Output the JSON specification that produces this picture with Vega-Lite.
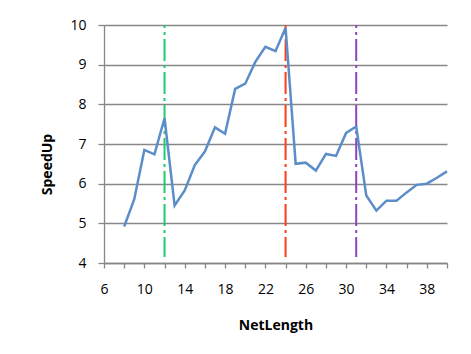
{
  "$schema": "https://vega.github.io/schema/vega-lite/v6.json",
  "width": 343,
  "height": 238,
  "autosize": {"type": "none"},
  "padding": {"left": 104, "top": 25, "right": 24, "bottom": 91},
  "background": "white",
  "config": {
    "view": {"stroke": null},
    "font": "Open Sans",
    "axis": {
      "domainColor": "#878787", "domainWidth": 1.3,
      "tickColor": "#878787", "tickWidth": 1.3,
      "labelFont": "Open Sans", "labelFontSize": 14, "labelColor": "#000000",
      "labelOverlap": false, "labelFlush": false,
      "titleFont": "Open Sans", "titleFontSize": 14, "titleFontWeight": "bold",
      "titleColor": "#000000"
    },
    "axisX": {"grid": false, "tickSize": 5, "labelPadding": 14, "titleBaseline": "middle", "titleY": 62},
    "axisY": {"grid": true, "gridColor": "#878787", "gridWidth": 1.3, "tickSize": 6, "labelPadding": 12,
      "titleX": -57, "titleY": 139, "titleAlign": "center", "titleBaseline": "middle"}
  },
  "datasets": {
    "speed": [
      {"NetLength": 8, "SpeedUp": 4.92},
      {"NetLength": 9, "SpeedUp": 5.61},
      {"NetLength": 10, "SpeedUp": 6.85},
      {"NetLength": 11, "SpeedUp": 6.74},
      {"NetLength": 12, "SpeedUp": 7.65},
      {"NetLength": 13, "SpeedUp": 5.45},
      {"NetLength": 14, "SpeedUp": 5.83},
      {"NetLength": 15, "SpeedUp": 6.47},
      {"NetLength": 16, "SpeedUp": 6.81},
      {"NetLength": 17, "SpeedUp": 7.42},
      {"NetLength": 18, "SpeedUp": 7.26},
      {"NetLength": 19, "SpeedUp": 8.39},
      {"NetLength": 20, "SpeedUp": 8.52},
      {"NetLength": 21, "SpeedUp": 9.07},
      {"NetLength": 22, "SpeedUp": 9.45},
      {"NetLength": 23, "SpeedUp": 9.34},
      {"NetLength": 24, "SpeedUp": 9.93},
      {"NetLength": 25, "SpeedUp": 6.5},
      {"NetLength": 26, "SpeedUp": 6.53},
      {"NetLength": 27, "SpeedUp": 6.33},
      {"NetLength": 28, "SpeedUp": 6.75},
      {"NetLength": 29, "SpeedUp": 6.7},
      {"NetLength": 30, "SpeedUp": 7.28},
      {"NetLength": 31, "SpeedUp": 7.44},
      {"NetLength": 32, "SpeedUp": 5.7},
      {"NetLength": 33, "SpeedUp": 5.32},
      {"NetLength": 34, "SpeedUp": 5.57},
      {"NetLength": 35, "SpeedUp": 5.57},
      {"NetLength": 36, "SpeedUp": 5.78},
      {"NetLength": 37, "SpeedUp": 5.97},
      {"NetLength": 38, "SpeedUp": 6.0},
      {"NetLength": 39, "SpeedUp": 6.15},
      {"NetLength": 40, "SpeedUp": 6.31}
    ],
    "marks": [
      {"NetLength": 12, "SpeedUp": 10, "bottom": 4.15, "c": "green"},
      {"NetLength": 24, "SpeedUp": 10, "bottom": 4.15, "c": "red"},
      {"NetLength": 31, "SpeedUp": 10, "bottom": 4.15, "c": "purple"}
    ]
  },
  "encoding": {
    "x": {
      "field": "NetLength", "type": "quantitative",
      "scale": {"domain": [6, 40], "nice": false, "zero": false},
      "axis": {
        "title": "NetLength",
        "values": [6, 8, 10, 12, 14, 16, 18, 20, 22, 24, 26, 28, 30, 32, 34, 36, 38, 40],
        "labelExpr": "(datum.value - 6) % 4 == 0 ? datum.label : ''"
      }
    },
    "y": {
      "field": "SpeedUp", "type": "quantitative",
      "scale": {"domain": [4, 10], "nice": false, "zero": false},
      "axis": {
        "title": "SpeedUp",
        "values": [4, 5, 6, 7, 8, 9, 10]
      }
    }
  },
  "layer": [
    {
      "data": {"name": "marks"},
      "mark": {"type": "rule", "strokeWidth": 2, "strokeDash": [22, 4, 3, 4], "strokeDashOffset": 19},
      "encoding": {
        "y2": {"field": "bottom"},
        "color": {
          "field": "c", "type": "nominal", "legend": null,
          "scale": {"domain": ["green", "red", "purple"], "range": ["#1DCC6E", "#FF3B1A", "#8E44C0"]}
        }
      }
    },
    {
      "data": {"name": "speed"},
      "mark": {"type": "line", "color": "#5B8EC9", "strokeWidth": 2.5}
    }
  ]
}
